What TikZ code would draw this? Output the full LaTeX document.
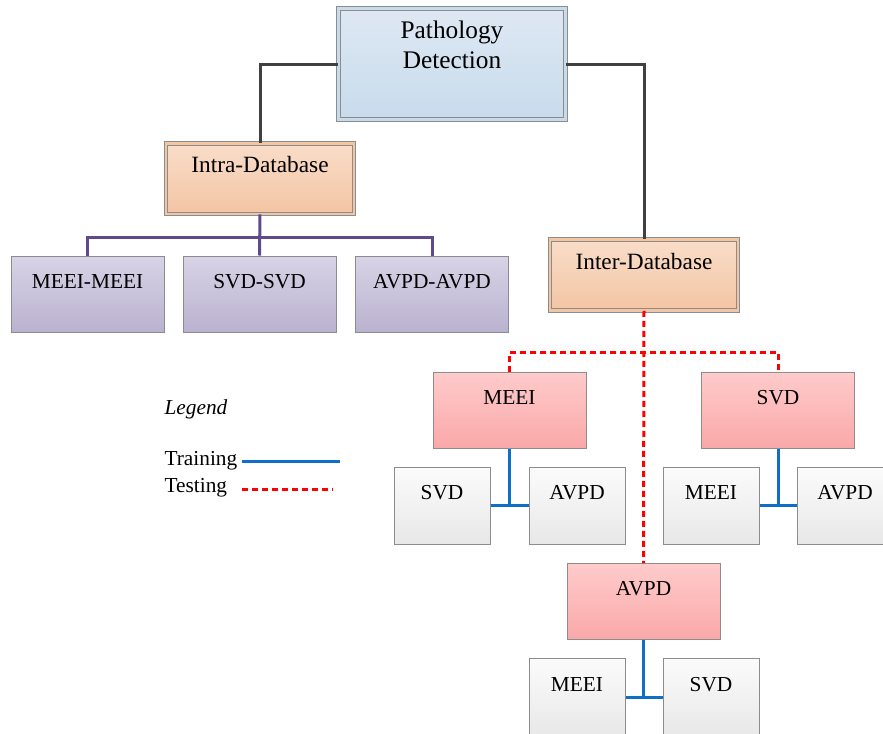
\documentclass[tikz,border=0pt]{standalone}
\usepackage{fontspec}
\setmainfont{Liberation Serif}

\definecolor{linegray}{HTML}{404040}
\definecolor{boxgray}{HTML}{8C8C8C}
\definecolor{purpleline}{HTML}{604A8B}
\definecolor{trainblue}{HTML}{0F6FC6}
\definecolor{testred}{HTML}{FF0000}
\definecolor{roottop}{HTML}{DEE8F3}
\definecolor{rootbot}{HTML}{C8DBEC}
\definecolor{dbtop}{HTML}{F9DDC9}
\definecolor{dbbot}{HTML}{F3C5A3}
\definecolor{pairtop}{HTML}{D8D3E6}
\definecolor{pairbot}{HTML}{BAB2D0}
\definecolor{traintop}{HTML}{FFCBCB}
\definecolor{trainbot}{HTML}{FAA8A8}
\definecolor{testtop}{HTML}{FBFBFB}
\definecolor{testbot}{HTML}{E8E8E8}

\tikzset{
  box/.style={draw=boxgray, line width=0.75pt, text height=12pt, text depth=21pt,
    font=\fontsize{16}{19}\selectfont},
  rootbox/.style={draw=boxgray, line width=0.75pt, double=rootbot, double distance=2pt,
    top color=roottop, bottom color=rootbot,
    minimum width=170pt, minimum height=83pt, align=center,
    font=\fontsize{19}{22.5}\selectfont},
  dbbox/.style={box, double=dbbot, double distance=2pt,
    top color=dbtop, bottom color=dbbot,
    minimum width=141pt, minimum height=53pt, font=\fontsize{17.5}{21}\selectfont},
  pairbox/.style={box, top color=pairtop, bottom color=pairbot,
    minimum width=114.75pt, minimum height=57pt},
  trainbox/.style={box, top color=traintop, bottom color=trainbot,
    minimum width=114.75pt, minimum height=57pt},
  testbox/.style={box, top color=testtop, bottom color=testbot,
    minimum width=72pt, minimum height=57.75pt},
  legendtext/.style={anchor=west, inner sep=1pt, font=\fontsize{16}{19}\selectfont},
  tree/.style={draw=linegray, line width=2.25pt},
  intraline/.style={draw=purpleline, line width=2.25pt},
  train/.style={draw=trainblue, line width=2.25pt},
  test/.style={draw=testred, line width=2.25pt, dash pattern=on 4.5pt off 3pt}
}

\begin{document}
\begin{tikzpicture}[x=0.75pt, y=-0.75pt]
  \useasboundingbox (0,0) rectangle (883,733);

  % Root and the two branches
  \node[rootbox] (patho) at (452,64) {Pathology\\Detection\\ \strut};
  \node[dbbox] (intra) at (260,178.5) {Intra-Database};
  \node[dbbox] (inter) at (644,275) {Inter-Database};

  % Intra-database pairs
  \node[pairbox] (mm) at (87.5,294) {MEEI-MEEI};
  \node[pairbox] (ss) at (259.5,294) {SVD-SVD};
  \node[pairbox] (aa) at (432,294) {AVPD-AVPD};

  % Training databases
  \node[trainbox] (tmeei) at (509.5,410) {MEEI};
  \node[trainbox] (tsvd) at (778,410) {SVD};
  \node[trainbox] (tavpd) at (643.5,601.5) {AVPD};

  % Testing databases
  \node[testbox] (meeisvd) at (442,505.5) {SVD};
  \node[testbox] (meeiavpd) at (577,505.5) {AVPD};
  \node[testbox] (svdmeei) at (711,505.5) {MEEI};
  \node[testbox] (svdavpd) at (845,505.5) {AVPD};
  \node[testbox] (avpdmeei) at (577,697) {MEEI};
  \node[testbox] (avpdsvd) at (711,697) {SVD};

  % Tree lines
  \draw[tree] (patho.west) -| (intra.north);
  \draw[tree] (patho.east) -| (inter.north);

  \coordinate (ibar) at (260,237);
  \draw[intraline] (mm.north) |- (ibar) -| (aa.north);
  \draw[intraline] (intra.south) -- (ss.north);

  \coordinate (tbar) at (644,352);
  \draw[test] (inter.south) -- (tavpd.north);
  \draw[test] (tmeei.north) |- (tbar) -| (tsvd.north);

  % Train -> test pairs
  \foreach \t/\a/\b in {tmeei/meeisvd/meeiavpd, tsvd/svdmeei/svdavpd, tavpd/avpdmeei/avpdsvd}{
    \draw[train] (\t.south) -- (\t.south |- \a.east);
    \draw[train] (\a.east) -- (\b.west);
  }

  % Legend
  \node[legendtext] (lgd) at (163,409) {\textit{Legend}};
  \node[legendtext] (ltrain) at (163,461) {Training};
  \node[legendtext] (ltest) at (163,488) {Testing};
  \coordinate (ltrains) at (242,461);
  \coordinate (ltraine) at (340,461);
  \coordinate (ltests) at (242,489);
  \coordinate (lteste) at (333,489);
  \draw[train] (ltrains) -- (ltraine);
  \draw[test] (ltests) -- (lteste);
\end{tikzpicture}
\end{document}
